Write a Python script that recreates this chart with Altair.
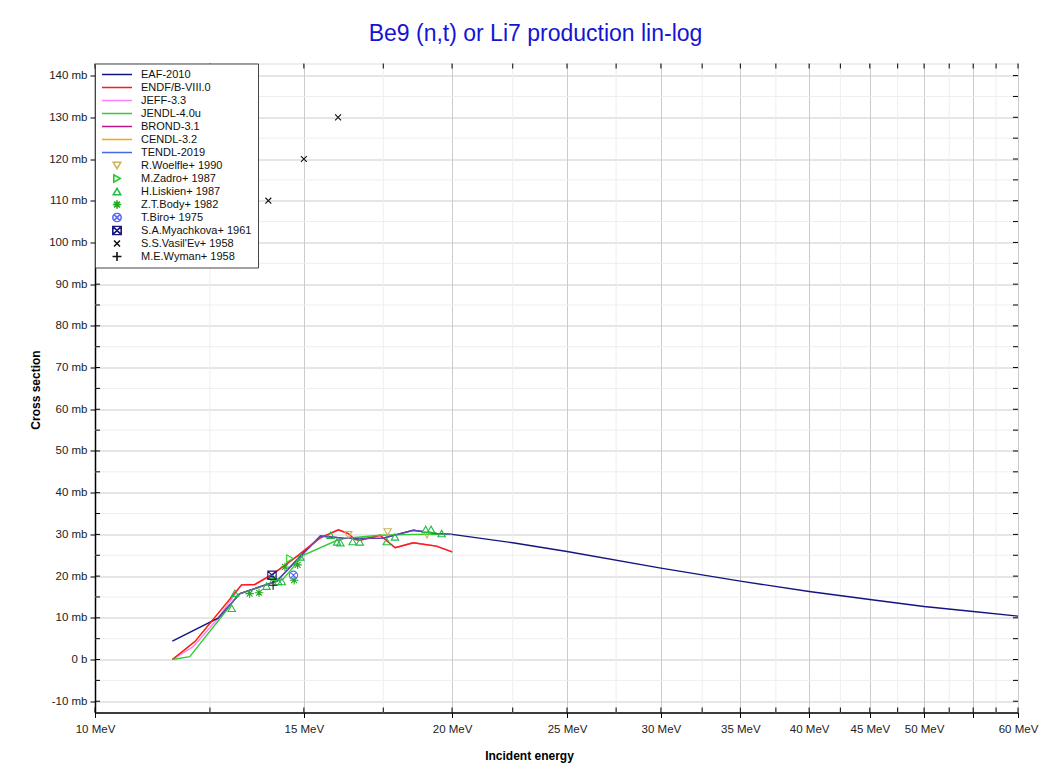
import altair as alt
import pandas as pd

# ---------------- data ----------------
series_names = ["EAF-2010", "ENDF/B-VIII.0", "JEFF-3.3", "JENDL-4.0u", "BROND-3.1",
                "CENDL-3.2", "TENDL-2019", "R.Woelfle+ 1990", "M.Zadro+ 1987",
                "H.Liskien+ 1987", "Z.T.Body+ 1982", "T.Biro+ 1975",
                "S.A.Myachkova+ 1961", "S.S.Vasil'Ev+ 1958", "M.E.Wyman+ 1958"]
series_colors = ["#141480", "#ff1a1a", "#ff80ff", "#33cc33", "#c0148c",
                 "#ffa500", "#4169e1", "#c8b45a", "#22cc22", "#22bb44",
                 "#22aa22", "#5a6cf0", "#1a1a80", "#111111", "#111111"]

eaf_e = [11.62, 12.71, 13.25, 14.23, 14.79, 15.49, 16.2, 16.72, 17.5, 18.55, 19.4, 20.0,
         22.5, 25, 30, 35, 40, 45, 50, 55, 60]
eaf_y = [4.4, 10.0, 15.8, 18.8, 23.8, 29.6, 29.1, 29.0, 29.1, 31.0, 30.2, 30.0,
         28.0, 25.9, 21.9, 18.8, 16.3, 14.4, 12.7, 11.5, 10.4]
endf_e = [11.62, 12.14, 13.29, 13.64, 14.14, 14.65, 14.9, 15.47, 16.04, 16.35, 16.56, 16.72,
          17.39, 17.91, 18.55, 19.4, 20.0]
endf_y = [0, 4.3, 17.9, 18.0, 20.6, 23.8, 25.4, 29.1, 31.1, 30.2, 28.8, 28.6,
          29.8, 26.8, 28.0, 27.2, 25.8]
jeff_e = [11.62, 12.1, 12.7, 13.29, 13.64, 14.14, 14.65, 14.9, 15.47, 16.04, 16.35, 16.56,
          16.72, 17.39, 17.91, 18.55, 19.4, 20.0]
jeff_y = [0, 3.1, 9.9, 17.9, 18.0, 20.6, 23.8, 25.4, 29.1, 31.1, 30.2, 28.8,
          28.6, 29.8, 26.8, 28.0, 27.2, 25.8]
jendl_e = [11.62, 12.02, 12.95, 13.2, 14.04, 14.4, 14.98, 16.0, 16.3, 17.39, 18.5, 20.0]
jendl_y = [0, 0.7, 12.3, 15.6, 18.2, 19.2, 25.0, 28.6, 29.1, 29.8, 30.0, 30.0]
brond_e = [12.71, 13.25, 14.23, 14.79, 15.49, 16.2, 16.72, 17.5, 18.55, 19.4, 20.0]
brond_y = [10.0, 15.8, 18.8, 23.8, 29.6, 29.1, 29.0, 29.1, 31.0, 30.2, 30.0]
cendl_e = [11.62, 12.14, 13.29, 13.64, 14.14, 14.65, 14.9, 15.47, 16.04, 16.35, 16.56, 16.72,
           17.39, 17.91, 18.55, 19.4, 20.0]
cendl_y = [0, 4.3, 17.9, 18.0, 20.6, 23.8, 25.4, 29.1, 31.1, 30.2, 28.8, 28.6,
           29.8, 26.8, 28.0, 27.2, 25.8]
tendl_e = [12.71, 13.25, 14.23, 14.79, 15.49, 16.2, 16.72, 17.5, 18.55, 19.4, 20.0]
tendl_y = [10.0, 15.8, 18.8, 23.8, 29.6, 29.1, 29.0, 29.1, 31.0, 30.2, 30.0]

woelfle_e = [16.35, 17.65, 19.05]
woelfle_y = [29.9, 30.6, 29.9]
zadro_e = [14.6]
zadro_y = [24.2]
liskien_e = [13.04, 13.12, 13.95, 14.27, 14.37, 14.9, 15.8, 16.0, 16.1, 16.49, 16.72,
             17.62, 17.9, 19.0, 19.2, 19.6]
liskien_y = [12.3, 15.9, 17.6, 18.7, 18.7, 24.6, 29.8, 28.2, 28.0, 28.3, 28.2,
             28.3, 29.4, 31.2, 31.2, 30.2]
body_e = [13.5, 13.75, 14.13, 14.46, 14.72, 14.82]
body_y = [15.8, 16.0, 19.4, 22.2, 19.0, 22.7]
biro_e = [14.7]
biro_y = [20.2]
myach_e = [14.1]
myach_y = [20.2]
vasil_e = [14.0, 15.0, 16.03]
vasil_y = [110, 120, 130]
wyman_e = [14.13]
wyman_y = [17.8]

x_major = [10, 15, 20, 25, 30, 35, 40, 45, 50, 55, 60]
x_minor = [12.5, 17.5, 22.5, 27.5, 32.5, 37.5, 42.5, 47.5, 52.5, 57.5]
y_major = [-10, 0, 10, 20, 30, 40, 50, 60, 70, 80, 90, 100, 110, 120, 130, 140]
y_minor = [-5, 5, 15, 25, 35, 45, 55, 65, 75, 85, 95, 105, 115, 125, 135]

# ---------------- tables ----------------
lib_lists = {
    "EAF-2010": (eaf_e, eaf_y), "ENDF/B-VIII.0": (endf_e, endf_y),
    "JEFF-3.3": (jeff_e, jeff_y), "JENDL-4.0u": (jendl_e, jendl_y),
    "BROND-3.1": (brond_e, brond_y), "CENDL-3.2": (cendl_e, cendl_y),
    "TENDL-2019": (tendl_e, tendl_y),
}
exp_lists = {
    "R.Woelfle+ 1990": (woelfle_e, woelfle_y), "M.Zadro+ 1987": (zadro_e, zadro_y),
    "H.Liskien+ 1987": (liskien_e, liskien_y), "Z.T.Body+ 1982": (body_e, body_y),
    "T.Biro+ 1975": (biro_e, biro_y), "S.A.Myachkova+ 1961": (myach_e, myach_y),
    "S.S.Vasil'Ev+ 1958": (vasil_e, vasil_y), "M.E.Wyman+ 1958": (wyman_e, wyman_y),
}

def table(name, es, ys):
    return pd.DataFrame({"series": [name] * len(es), "E": es, "y": ys})

exp_df = pd.concat([table(k, *v) for k, v in exp_lists.items()], ignore_index=True)

W, H = 923, 649
FONT = "Liberation Sans"

asterisk = "M-1,0L1,0M0,-1L0,1M-0.7,-0.7L0.7,0.7M-0.7,0.7L0.7,-0.7"
circ_x = "M1,0A1,1,0,1,1,-1,0A1,1,0,1,1,1,0ZM-0.7,-0.7L0.7,0.7M-0.7,0.7L0.7,-0.7"
sq_x = "M-1,-1L1,-1L1,1L-1,1ZM-1,-1L1,1M-1,1L1,-1"
xmark = "M-0.8,-0.8L0.8,0.8M-0.8,0.8L0.8,-0.8"
plus = "M-1,0L1,0M0,-1L0,1"
shape_range = ["stroke"] * 7 + ["triangle-down", "triangle-right", "triangle-up",
                                asterisk, circ_x, sq_x, xmark, plus]
size_range = [900] * 7 + [55, 55, 55, 70, 70, 70, 55, 80]

xs = alt.Scale(type="log", domain=[10, 60], nice=False)
ys = alt.Scale(domain=[-12.7, 142.9], nice=False, zero=False)
cs = alt.Scale(domain=series_names, range=series_colors)
ss = alt.Scale(domain=series_names, range=shape_range)
zs = alt.Scale(type="ordinal", domain=series_names, range=size_range)

leg = alt.Legend(title=None, orient="top-left", offset=0, padding=6,
                 fillColor="white", strokeColor="#444", cornerRadius=0,
                 clipHeight=10, rowPadding=2, labelFontSize=11, labelFont=FONT,
                 labelColor="#111", labelOffset=8, symbolStrokeWidth=1.6,
                 labelLimit=300)

x_axis = alt.Axis(values=x_major,
                  labelExpr="datum.value == 55 ? '' : datum.value + ' MeV'",
                  title="Incident energy", titleFont=FONT, titleFontSize=12,
                  titleFontWeight="bold", titleColor="#000", titleX=434, titleY=38,
                  labelFont=FONT, labelFontSize=11.5, labelColor="#222",
                  labelPadding=6, tickSize=5, tickColor="#000", domainColor="#000",
                  domainWidth=1.5, gridColor="#cccccc", grid=True, labelFlush=False,
                  labelOverlap=False)
y_axis = alt.Axis(values=y_major,
                  labelExpr="datum.value == 0 ? '0 b' : datum.value + ' mb'",
                  title="Cross section", titleFont=FONT, titleFontSize=12,
                  titleFontWeight="bold", titleColor="#000", titleX=-53, titleY=326,
                  labelFont=FONT, labelFontSize=11.5, labelColor="#222",
                  labelPadding=3, tickSize=5, tickColor="#000", domainColor="#000",
                  domainWidth=1.5, gridColor="#cccccc", grid=True, labelOverlap=False)

X = alt.X("E:Q", scale=xs, axis=x_axis)
Y = alt.Y("y:Q", scale=ys, axis=y_axis)

# minor grid
gx = alt.Chart(pd.DataFrame({"E": x_minor})).mark_rule(color="#eeeeee", strokeWidth=1).encode(x=X)
gy = alt.Chart(pd.DataFrame({"y": y_minor})).mark_rule(color="#eeeeee", strokeWidth=1).encode(y=Y)

# evaluated data lines (CENDL drawn first, hidden underneath)
draw_order = ["CENDL-3.2", "JEFF-3.3", "EAF-2010", "ENDF/B-VIII.0", "JENDL-4.0u",
              "BROND-3.1", "TENDL-2019"]
line_layers = []
for name in draw_order:
    es_, ys_ = lib_lists[name]
    op = 0.55 if name in ("BROND-3.1", "TENDL-2019") else 1.0
    line_layers.append(
        alt.Chart(table(name, es_, ys_)).mark_line(strokeWidth=1.4, opacity=op).encode(
            x=X, y=Y, color=alt.Color("series:N", scale=cs, legend=leg),
        ))

pts = alt.Chart(exp_df).mark_point(filled=False, opacity=1, strokeWidth=1.1).encode(
    x=X, y=Y,
    color=alt.Color("series:N", scale=cs, legend=leg),
    shape=alt.Shape("series:N", scale=ss, legend=leg),
    size=alt.Size("series:N", scale=zs, legend=leg),
)

# inward frame ticks
x_all = pd.DataFrame({"E": x_major + x_minor})
y_all = pd.DataFrame({"y": y_major + y_minor})
t_top = alt.Chart(x_all).mark_rule(color="#000").encode(x=X, y=alt.value(0), y2=alt.value(5))
t_bot = alt.Chart(x_all).mark_rule(color="#000").encode(x=X, y=alt.value(H), y2=alt.value(H - 5))
t_left = alt.Chart(y_all).mark_rule(color="#000").encode(y=Y, x=alt.value(0), x2=alt.value(5))
t_right = alt.Chart(y_all).mark_rule(color="#000").encode(y=Y, x=alt.value(W), x2=alt.value(W - 5))

chart = alt.layer(gx, gy, *line_layers, pts, t_top, t_bot, t_left, t_right).properties(
    width=W, height=H,
    title=alt.TitleParams("Be9 (n,t) or Li7 production lin-log", font=FONT, fontSize=23,
                          fontWeight="normal", color="#1414d4", dx=-21, offset=17,
                          anchor="middle"),
    padding={"left": 87, "top": 55.5, "right": 30, "bottom": 52},
    autosize=alt.AutoSizeParams(type="none"),
).configure_view(stroke="#000", strokeWidth=1.5).configure(background="white")

chart.save("out.html", embed_options={"renderer": "svg", "actions": False})
